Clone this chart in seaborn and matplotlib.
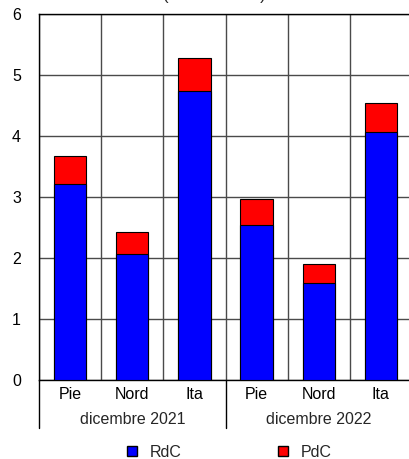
import matplotlib
matplotlib.use("Agg")
import matplotlib.pyplot as plt
import matplotlib.transforms as mtransforms
from matplotlib.patches import Patch
import pandas as pd
import seaborn as sns

areas = ["Pie", "Nord", "Ita", "Pie", "Nord", "Ita"]
periods = ["dicembre 2021", "dicembre 2022"]
rdc = [3.22, 2.07, 4.73, 2.54, 1.59, 4.06]
pdc = [0.46, 0.35, 0.55, 0.43, 0.31, 0.48]

sns.set_style("white")
plt.rcParams["font.family"] = ["Liberation Sans", "DejaVu Sans"]

df = pd.DataFrame({
    "pos": range(len(areas)),
    "RdC": rdc,
    "totale": [a + b for a, b in zip(rdc, pdc)],
})

fs = 11.5
fig = plt.figure(figsize=(4.09, 4.59), dpi=100)
ax = fig.add_axes([39 / 409, 1 - 380 / 459, 373 / 409, 366 / 459])

sns.barplot(data=df, x="pos", y="totale", color="#ff0000", saturation=1,
            width=0.52, edgecolor="black", linewidth=0.8, ax=ax, zorder=3)
sns.barplot(data=df, x="pos", y="RdC", color="#0000ff", saturation=1,
            width=0.52, edgecolor="black", linewidth=0.8, ax=ax, zorder=3)

ax.set_ylim(0, 6)
ax.set_xlim(-0.5, 5.5)
ax.set_yticks(range(7))
ax.set_xticks(range(6))
ax.set_xticklabels(areas)
ax.set_xticks([i + 0.5 for i in range(-1, 6)], minor=True)
ax.set_xlabel("")
ax.set_ylabel("")
ax.tick_params(axis="both", length=0, labelsize=fs, colors="black")
ax.tick_params(axis="x", pad=5)
ax.tick_params(axis="y", pad=13)
ax.grid(axis="y", color="#4a4a4a", linewidth=1)
ax.grid(axis="x", which="minor", color="#4a4a4a", linewidth=1)
ax.set_axisbelow(True)
for s in ["left", "bottom", "top"]:
    ax.spines[s].set_color("black")
    ax.spines[s].set_linewidth(1)
ax.spines["right"].set_visible(False)

trans = mtransforms.blended_transform_factory(ax.transData, ax.transAxes)
for i, p in enumerate(periods):
    ax.text(1 + 3 * i, -0.109, p, transform=trans, ha="center", va="center", fontsize=fs)
for xb in [-0.5, 2.5, 5.5]:
    ax.plot([xb, xb], [0, -0.131], transform=trans, color="black", linewidth=1, clip_on=False)

# title sits mostly above the canvas, only the parentheses peek in
ax.text((214 - 39) / 373, 1.037, "(miliardi euro)", transform=ax.transAxes,
        ha="center", va="baseline", fontsize=12)

handles = [Patch(facecolor="#0000ff", edgecolor="black", label="RdC"),
           Patch(facecolor="#ff0000", edgecolor="black", label="PdC")]
ax.legend(handles=handles, loc="center", bbox_to_anchor=(0.5 + 4 / 373, -0.197),
          ncol=2, frameon=False, handlelength=0.65, handleheight=0.65,
          columnspacing=6.0, fontsize=fs)

fig.savefig("out.png", dpi=100)
